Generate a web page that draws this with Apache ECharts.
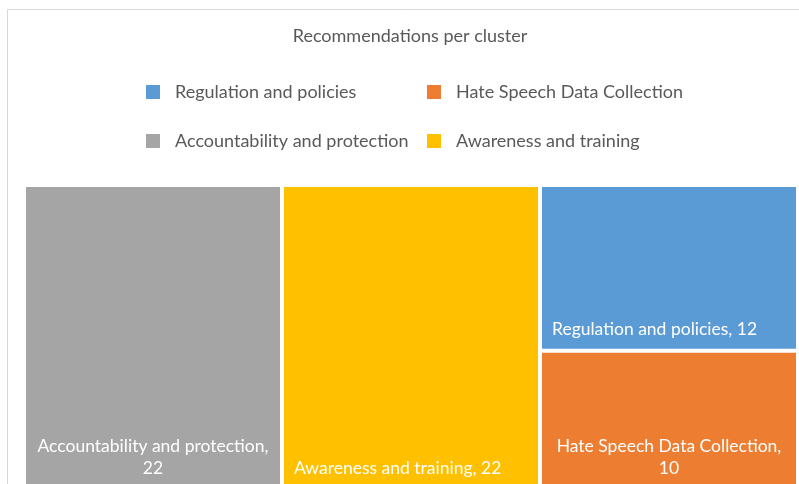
<!DOCTYPE html>
<html>
<head>
<meta charset="utf-8">
<script src="https://cdn.jsdelivr.net/npm/echarts@6/dist/echarts.min.js"></script>
<style>
  html, body { margin: 0; padding: 0; background: #fff; }
  #chart { width: 799px; height: 484px; }
</style>
</head>
<body>
<div id="chart"></div>
<script>
// clusters and number of recommendations
const categories = [
  'Regulation and policies',
  'Hate Speech Data Collection',
  'Awareness and training',
  'Accountability and protection'
]
const values = [12, 10, 22, 22]

const colors = {
  'Regulation and policies': '#5b9bd5',
  'Hate Speech Data Collection': '#ed7d31',
  'Accountability and protection': '#a5a5a5',
  'Awareness and training': '#ffc000'
}

const FONT = 'Lato, "Open Sans", sans-serif'
const LABEL_SIZE = 17.5
const LABEL_LINE = 22
const LABEL_MAX = 236

const measure = document.createElement('canvas').getContext('2d')
measure.font = LABEL_SIZE + 'px ' + FONT

function tileLabel(params) {
  const full = params.name + ', ' + params.value
  if (measure.measureText(full).width <= LABEL_MAX) {
    return '{l|' + full + '}'
  }
  return '{c|' + params.name + ',}\n{c|' + params.value + '}'
}

// treemap labels fill the whole tile, so push them to the bottom edge
function labelAtBottom(params) {
  const lines = params.text.split('\n').length
  return {
    x: params.rect.x,
    y: params.rect.y + params.rect.height - 8 - lines * LABEL_LINE,
    align: 'left',
    verticalAlign: 'top'
  }
}

const chart = echarts.init(document.getElementById('chart'))

const treeData = categories.map((name, i) => ({
  name: name,
  value: values[i],
  itemStyle: { color: colors[name] }
}))

const legendItem = {
  orient: 'vertical',
  top: 82,
  padding: 0,
  itemWidth: 14,
  itemHeight: 14,
  itemGap: 29,
  icon: 'rect',
  selectedMode: false,
  textStyle: {
    fontFamily: FONT,
    fontSize: 18,
    color: '#595959',
    lineHeight: 20,
    padding: [0, 0, 0, 10]
  }
}

const labelText = {
  fontFamily: FONT,
  fontSize: LABEL_SIZE,
  color: '#ffffff',
  lineHeight: LABEL_LINE
}

chart.setOption({
  animation: false,
  title: {
    text: 'Recommendations per cluster',
    left: 410,
    top: 27,
    padding: 0,
    textAlign: 'center',
    textStyle: {
      fontFamily: FONT,
      fontSize: 18,
      fontWeight: 'normal',
      color: '#595959'
    }
  },
  legend: [
    { ...legendItem, left: 146, data: [categories[0], categories[3]] },
    { ...legendItem, left: 427, data: [categories[1], categories[2]] }
  ],
  graphic: [{
    type: 'rect',
    z: -10,
    silent: true,
    shape: { x: 7.5, y: 9.5, width: 900, height: 600 },
    style: { fill: 'none', stroke: '#d9d9d9', lineWidth: 1 }
  }],
  series: [
    {
      // only feeds the legend, draws nothing
      type: 'pie',
      radius: [0, 0],
      center: [-100, -100],
      silent: true,
      label: { show: false },
      labelLine: { show: false },
      data: categories.map(name => ({
        name: name,
        value: 1,
        itemStyle: { color: colors[name] }
      }))
    },
    {
      type: 'treemap',
      left: 26,
      top: 187,
      width: 770,
      height: 300,
      squareRatio: 1,
      roam: false,
      nodeClick: false,
      breadcrumb: { show: false },
      itemStyle: { borderWidth: 0, gapWidth: 4 },
      levels: [
        { itemStyle: { borderWidth: 0, gapWidth: 4 } },
        { itemStyle: { borderWidth: 0, gapWidth: 0 } }
      ],
      label: {
        show: true,
        padding: [0, 10, 0, 10],
        overflow: 'none',
        formatter: tileLabel,
        rich: {
          l: { ...labelText, align: 'left' },
          c: { ...labelText, align: 'center' }
        }
      },
      labelLayout: labelAtBottom,
      emphasis: { disabled: true },
      data: treeData
    }
  ]
})
</script>
</body>
</html>
